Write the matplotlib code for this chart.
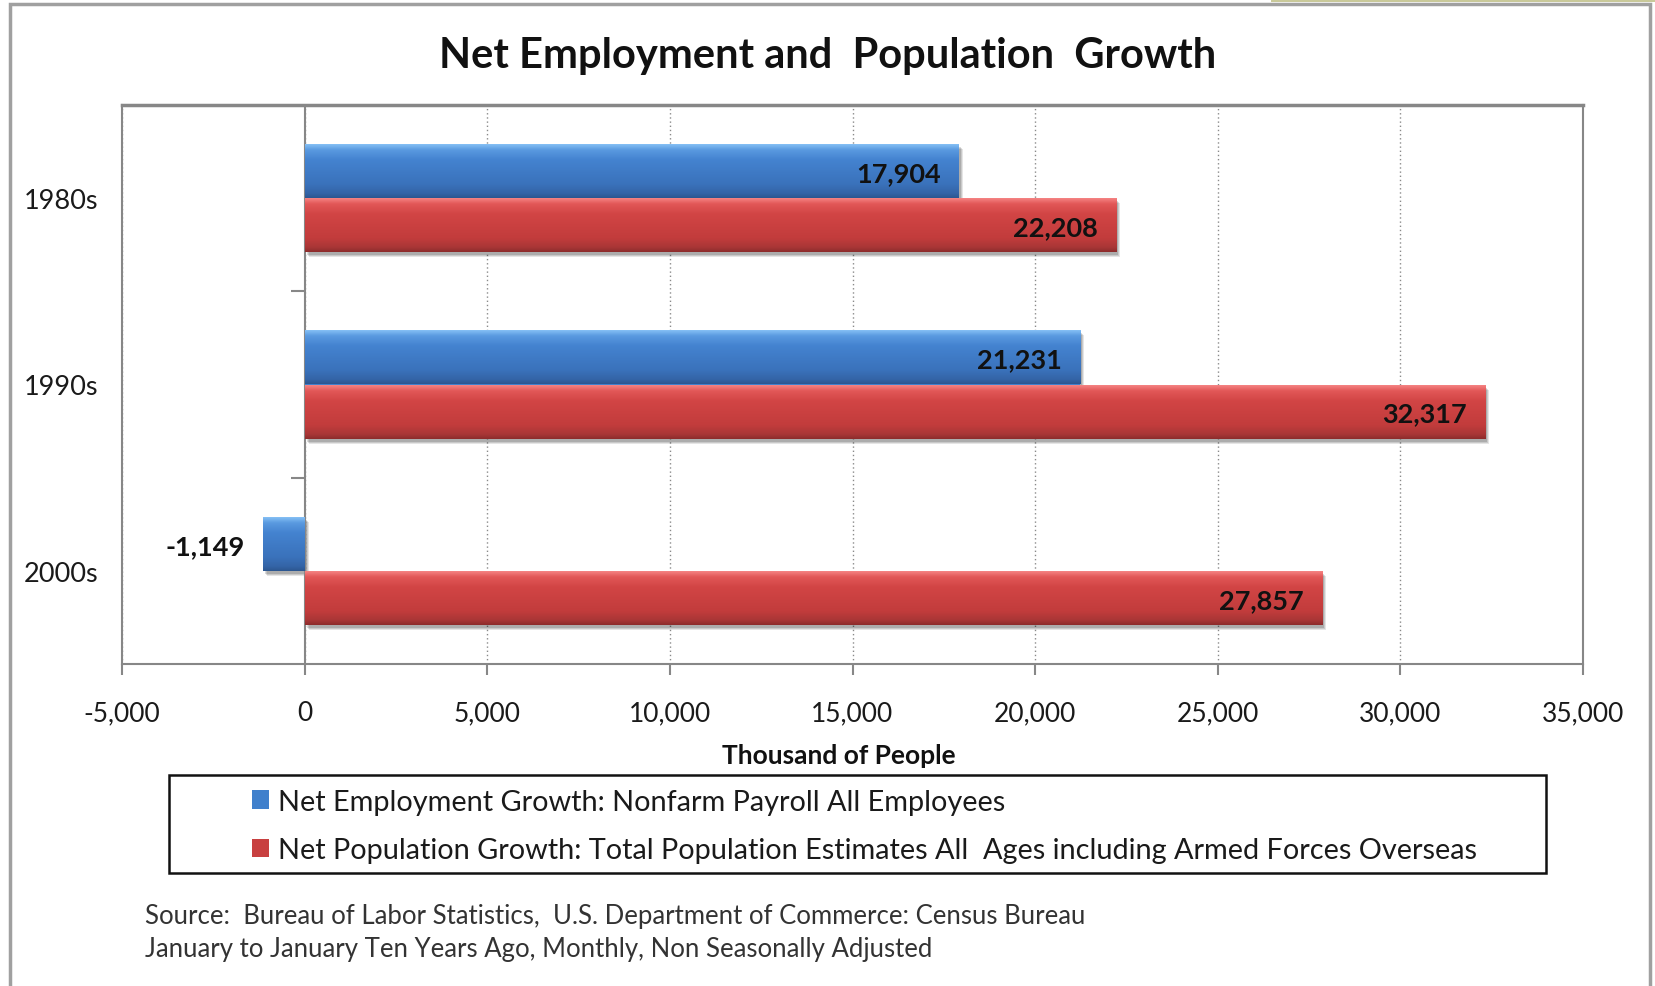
import matplotlib
matplotlib.use("Agg")
import matplotlib.pyplot as plt
import numpy as np
from matplotlib.colors import LinearSegmentedColormap
from matplotlib.patches import Rectangle
from matplotlib.transforms import ScaledTranslation

# ---------------- data ----------------
categories = ["1980s", "1990s", "2000s"]
employment = [17904, 21231, -1149]
population = [22208, 32317, 27857]
series_labels = [
    "Net Employment Growth: Nonfarm Payroll All Employees",
    "Net Population Growth: Total Population Estimates All  Ages including Armed Forces Overseas",
]
xticks = [-5000, 0, 5000, 10000, 15000, 20000, 25000, 30000, 35000]
title = "Net Employment and  Population  Growth"
xlabel = "Thousand of People"
source_lines = [
    "Source:  Bureau of Labor Statistics,  U.S. Department of Commerce: Census Bureau",
    "January to January Ten Years Ago, Monthly, Non Seasonally Adjusted",
]

# ---------------- style ----------------
plt.rcParams['font.family'] = ['Lato', 'DejaVu Sans']
W, H = 1655, 987
GRAY = "#878787"
blue_mid = "#4080cc"
red_mid = "#c84040"
blue_cmap = LinearSegmentedColormap.from_list(
    "b", [(0, "#8cc6f8"), (0.12, "#5a9ae0"), (0.3, "#4483d0"), (0.75, "#3a72bb"), (0.92, "#3464a6"), (1, "#2c5690")])
red_cmap = LinearSegmentedColormap.from_list(
    "r", [(0, "#f88a8a"), (0.12, "#e25858"), (0.3, "#d24545"), (0.75, "#c23c3c"), (0.92, "#a83636"), (1, "#8c2c2c")])

fig = plt.figure(figsize=(W / 100, H / 100), dpi=100)
ax = fig.add_axes([122 / W, 1 - 665 / H, (1583 - 122) / W, (665 - 106) / H])

ypos = np.arange(len(categories))
bh = 0.29
off = 0.145

def draw_series(vals, dy, color, cmap, label):
    # soft shadow
    for dx, dyy, a in [(4, -5, 0.10), (3, -4, 0.12), (2, -3, 0.14)]:
        tr = ax.transData + ScaledTranslation(dx / 100, dyy / 100, fig.dpi_scale_trans)
        ax.barh(ypos + dy, vals, height=bh, color="#000000", alpha=a, transform=tr,
                zorder=2, linewidth=0)
    bars = ax.barh(ypos + dy, vals, height=bh, color=color, zorder=3, label=label,
                   linewidth=0)
    grad = np.linspace(0, 1, 128).reshape(-1, 1)
    for b, v, yc in zip(bars, vals, ypos + dy):
        im = ax.imshow(grad, cmap=cmap, aspect="auto", origin="upper",
                       extent=[min(0, v), max(0, v), yc + bh / 2, yc - bh / 2],
                       zorder=3.5, interpolation="bilinear")
        im.set_clip_path(b)
        ax.annotate(f"{v:,}", xy=(v, yc), xytext=(-18, -2), textcoords="offset pixels",
                    ha="right", va="center", fontsize=19.5, fontweight="bold",
                    color="#111111", zorder=5)
    return bars

b1 = draw_series(employment, -off, blue_mid, blue_cmap, series_labels[0])
b2 = draw_series(population, off, red_mid, red_cmap, series_labels[1])

ax.set_xlim(xticks[0], xticks[-1])
ax.set_ylim(len(categories) - 0.5, -0.5)
ax.set_xticks(xticks, [f"{t:,}" for t in xticks])
ax.set_yticks(ypos, categories)
ax.tick_params(axis="y", length=0, pad=17, labelsize=19.5, labelcolor="#1a1a1a")
ax.tick_params(axis="x", length=8, width=1.5, color=GRAY, pad=18, labelsize=19,
               labelcolor="#1a1a1a", direction="out")
ax.grid(axis="x", color="#8a8a8a", linestyle=(0, (1, 2)), linewidth=1.0, zorder=1)
ax.set_axisbelow(True)
for s in ax.spines.values():
    s.set_color(GRAY)
    s.set_linewidth(1.5)
ax.spines["top"].set_linewidth(2.5)
ax.axvline(0, color=GRAY, linewidth=1.5, zorder=2.5)
# category separator ticks on the zero axis
ax.plot(np.zeros(len(categories) - 1), ypos[:-1] + 0.5, linestyle="none", marker=0,
        markersize=10, markeredgewidth=1.5, color=GRAY, clip_on=False, zorder=2.5)

fig.text(0.5, 1 - 56 / H, title, ha="center", va="center", fontsize=30,
         fontweight="bold", color="#111111")
fig.text(839 / W, 1 - 756 / H, xlabel, ha="center", va="center", fontsize=19,
         fontweight="bold", color="#111111")

# legend box
fig.patches.append(Rectangle((169 / W, 1 - 874 / H), (1546 - 169) / W, (874 - 776) / H,
                             transform=fig.transFigure, fill=False, edgecolor="#111111",
                             linewidth=1.8))
fig.legend(handles=[b1, b2], labels=series_labels, loc="center left",
           bbox_to_anchor=(252 / W, 1 - 827 / H), frameon=False, fontsize=20.8,
           handlelength=0.6, handleheight=0.6, handletextpad=0.3, labelspacing=0.79,
           borderpad=0, borderaxespad=0, labelcolor="#1a1a1a")

for i, line in enumerate(source_lines):
    fig.text(145 / W, 1 - (917 + 33 * i) / H, line, ha="left", va="center",
             fontsize=18.5, color="#333333")

# outer chart frame and top strip
fig.patches.append(Rectangle((10 / W, -0.02), (1650 - 10) / W, 1.02 - 5 / H,
                             transform=fig.transFigure, fill=False, edgecolor="#a0a0a0",
                             linewidth=2.5))
fig.patches.append(Rectangle((1271 / W, 1 - 2.5 / H), 1, 3 / H, transform=fig.transFigure,
                             facecolor="#c9c99a", edgecolor="none"))

fig.savefig("out.png", dpi=100)
